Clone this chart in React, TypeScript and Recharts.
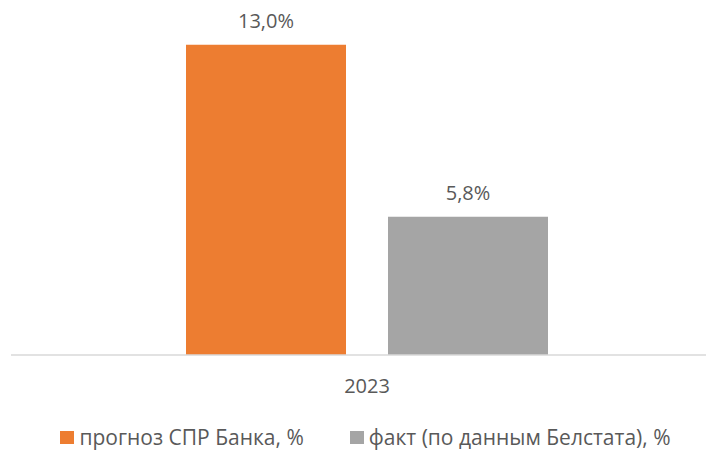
import React from "react";
import { BarChart, Bar, XAxis, YAxis, Legend, LabelList } from "recharts";

const categories = ["2023"];
const forecastValues = [13.0];
const actualValues = [5.8];
const seriesNames = ["прогноз СПР Банка, %", "факт (по данным Белстата), %"];
const seriesColors = ["#ED7D31", "#A5A5A5"];

const data = categories.map((c, i) => ({
  year: c,
  forecast: forecastValues[i],
  actual: actualValues[i],
}));

const FONT = "'Open Sans', sans-serif";
const fmt = (v: any) => Number(v).toFixed(1).replace(".", ",") + "%";

const LegendContent = (props: any) => {
  const payload = props.payload || [];
  return (
    <div
      style={{
        display: "flex",
        justifyContent: "center",
        alignItems: "center",
        gap: 46,
        fontFamily: FONT,
        fontSize: 21,
        lineHeight: "22px",
        color: "#595959",
        height: 22,
        paddingLeft: 14,
      }}
    >
      {payload.map((p: any, i: number) => (
        <div key={i} style={{ display: "flex", alignItems: "center", height: 22 }}>
          <span
            style={{
              display: "inline-block",
              width: 14,
              height: 13,
              background: p.color,
              marginRight: 5,
            }}
          />
          <span style={{ lineHeight: "22px" }}>{p.value}</span>
        </div>
      ))}
    </div>
  );
};

export default function App() {
  return (
    <div style={{ position: "absolute", left: 0, top: 0, width: 710, height: 451, background: "#fff" }}>
      <BarChart
        width={710}
        height={451}
        data={data}
        margin={{ top: 21, right: 4, left: 11, bottom: 3 }}
        barSize={160}
        barGap={42}
      >
        <XAxis
          dataKey="year"
          axisLine={{ stroke: "#D9D9D9", strokeWidth: 1.5 }}
          tickLine={false}
          tickSize={0}
          tickMargin={24}
          height={71}
          padding={{ left: 17, right: 0 }}
          tick={{ fill: "#595959", fontSize: 20, fontFamily: FONT }}
        />
        <YAxis hide domain={[0, 14]} />
        <Legend verticalAlign="bottom" height={22} content={<LegendContent />} />
        <Bar dataKey="forecast" name={seriesNames[0]} fill={seriesColors[0]} isAnimationActive={false}>
          <LabelList
            dataKey="forecast"
            position="top"
            offset={17}
            formatter={fmt}
            style={{ fill: "#595959", fontSize: 20, fontFamily: FONT }}
          />
        </Bar>
        <Bar dataKey="actual" name={seriesNames[1]} fill={seriesColors[1]} isAnimationActive={false}>
          <LabelList
            dataKey="actual"
            position="top"
            offset={17}
            formatter={fmt}
            style={{ fill: "#595959", fontSize: 20, fontFamily: FONT }}
          />
        </Bar>
      </BarChart>
    </div>
  );
}
